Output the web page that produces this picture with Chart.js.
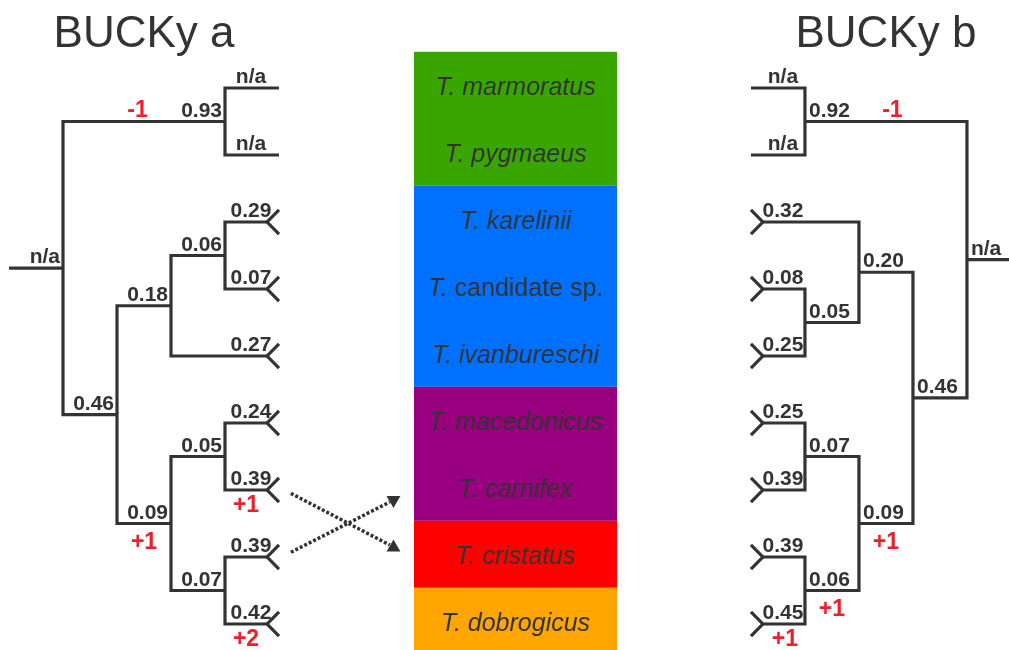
<!DOCTYPE html>
<html>
<head>
<meta charset="utf-8">
<script src="https://cdn.jsdelivr.net/npm/chart.js@4.4.1/dist/chart.umd.min.js"></script>
<style>
  html, body { margin: 0; padding: 0; background: #fff; }
  #wrap { width: 1009px; height: 650px; position: relative; }
</style>
</head>
<body>
<div id="wrap"><canvas id="chart"></canvas></div>
<script>
// taxa top to bottom, same order in both trees
const taxa = ['marmoratus', 'pygmaeus', 'karelinii', 'candidate sp.', 'ivanbureschi',
              'macedonicus', 'carnifex', 'cristatus', 'dobrogicus'];
const taxonGroup = [0, 0, 1, 1, 1, 2, 2, 3, 4];
const titles = ['BUCKy a', 'BUCKy b'];

// BUCKy a: topology, clade values in pre-order (root first)
const topoA = [[0, 1], [[[2, 3], 4], [[5, 6], [7, 8]]]];
const cfA = ['n/a', '0.93', '0.46', '0.18', '0.06', '0.09', '0.05', '0.07'];
const diffA = ['', '-1', '', '', '', '+1', '', ''];
const leafCfA = ['n/a', 'n/a', '0.29', '0.07', '0.27', '0.24', '0.39', '0.39', '0.42'];
const leafDiffA = ['', '', '', '', '', '', '+1', '', '+2'];

// BUCKy b
const topoB = [[0, 1], [[2, [3, 4]], [[5, 6], [7, 8]]]];
const cfB = ['n/a', '0.92', '0.46', '0.20', '0.05', '0.09', '0.07', '0.06'];
const diffB = ['', '-1', '', '', '', '+1', '', '+1'];
const leafCfB = ['n/a', 'n/a', '0.32', '0.08', '0.25', '0.25', '0.39', '0.39', '0.45'];
const leafDiffB = ['', '', '', '', '', '', '', '', '+1'];

// taxa that swap place between the trees (dotted arrows)
const swapped = [6, 7];

// ---- look ----
const INK = '#333333';
const RED = '#e8212b';
const groupColors = ['#39a600', '#0070ff', '#990080', '#ff0000', '#ffa500'];
const FONT = '"Liberation Sans", Arial, sans-serif';
const RIGHT_ROOT = 18.74;          // mirror axis for the right tree
const COLUMN = [7.5, 11.26];       // x range of the taxon column
const FORK_X = 0.22, FORK_Y = 0.18;

// lay out a tree: level 1 = root, leaves at level 5
function layout(topo, side) {
  const nodes = [];
  const walk = (n) => {
    if (typeof n === 'number') return { leaf: n, y: n, h: 0 };
    const node = { y: 0, h: 0 };
    nodes.push(node);
    node.kids = n.map(walk);
    node.y = (node.kids[0].y + node.kids[node.kids.length - 1].y) / 2;
    node.h = 1 + Math.max(...node.kids.map(k => k.h));
    return node;
  };
  walk(topo);
  nodes.forEach(n => { n.lvl = 5 - n.h; });
  nodes.forEach(n => n.kids.forEach(k => { k.parentLvl = n.lvl; }));
  nodes[0].parentLvl = 0;
  const px = v => side > 0 ? v : RIGHT_ROOT - v;
  return { nodes, px, side };
}

const trees = [
  Object.assign(layout(topoA, 1), { cf: cfA, diff: diffA, leafCf: leafCfA, leafDiff: leafDiffA }),
  Object.assign(layout(topoB, -1), { cf: cfB, diff: diffB, leafCf: leafCfB, leafDiff: leafDiffB })
];

const lineStyle = {
  showLine: true, borderColor: INK, borderWidth: 3.2, pointRadius: 0,
  borderJoinStyle: 'miter', borderCapStyle: 'butt', tension: 0
};

const datasets = [];
trees.forEach(t => {
  const end = k => {
    if (k.leaf === undefined) return k.lvl;
    return t.leafCf[k.leaf] === 'n/a' ? 5 : 5 - FORK_X;
  };
  t.nodes.forEach(n => {
    const a = n.kids[0], b = n.kids[n.kids.length - 1];
    datasets.push(Object.assign({ data: [
      { x: t.px(end(a)), y: a.y }, { x: t.px(n.lvl), y: a.y },
      { x: t.px(n.lvl), y: b.y }, { x: t.px(end(b)), y: b.y }
    ] }, lineStyle));
  });
  const root = t.nodes[0];
  datasets.push(Object.assign({ data: [{ x: t.px(0), y: root.y }, { x: t.px(1), y: root.y }] }, lineStyle));
  t.leafCf.forEach((v, i) => {
    if (v === 'n/a') return;
    datasets.push(Object.assign({ data: [
      { x: t.px(5), y: i - FORK_Y }, { x: t.px(5 - FORK_X), y: i }, { x: t.px(5), y: i + FORK_Y }
    ] }, lineStyle));
  });
});

// dotted arrows between the swapped taxa
const [sa, sb] = swapped;
const arrowStyle = Object.assign({}, lineStyle, { borderDash: [3, 2], borderWidth: 3.5 });
datasets.push(Object.assign({ data: [{ x: 5.22, y: sa + 0.05 }, { x: 7.05, y: sb - 0.18 }] }, arrowStyle));
datasets.push(Object.assign({ data: [{ x: 5.22, y: sb - 0.07 }, { x: 7.05, y: sa + 0.18 }] }, arrowStyle));
datasets.push({
  data: [{ x: 7.12, y: sb - 0.14 }, { x: 7.12, y: sa + 0.15 }],
  showLine: false, pointStyle: 'triangle', pointRadius: 8, rotation: [0, 180],
  backgroundColor: INK, borderColor: INK, borderWidth: 0
});

const treeText = {
  id: 'treeText',
  beforeDatasetsDraw(chart) {
    const { ctx, scales: { x, y } } = chart;
    ctx.save();
    const x0 = x.getPixelForValue(COLUMN[0]), x1 = x.getPixelForValue(COLUMN[1]);
    groupColors.forEach((c, g) => {
      const rows = taxonGroup.map((gg, i) => gg === g ? i : -1).filter(i => i >= 0);
      const top = y.getPixelForValue(rows[0] - 0.54);
      const bot = y.getPixelForValue(rows[rows.length - 1] + 0.46);
      ctx.fillStyle = c;
      ctx.fillRect(x0, top, x1 - x0, bot - top);
    });
    // taxon names
    const cx = (x0 + x1) / 2;
    ctx.fillStyle = INK;
    ctx.textBaseline = 'alphabetic';
    ctx.textAlign = 'left';
    taxa.forEach((name, i) => {
      const gen = 'T. ';
      const itFont = 'italic 25px ' + FONT;
      const spFont = (name.endsWith('sp.') ? '' : 'italic ') + '25px ' + FONT;
      ctx.font = itFont; const w1 = ctx.measureText(gen).width;
      ctx.font = spFont; const w2 = ctx.measureText(name).width;
      const sx = cx - (w1 + w2) / 2, by = y.getPixelForValue(i) + 7;
      ctx.font = itFont; ctx.fillText(gen, sx, by);
      ctx.font = spFont; ctx.fillText(name, sx + w1, by);
    });
    ctx.restore();
  },
  afterDatasetsDraw(chart) {
    const { ctx, scales: { x, y } } = chart;
    ctx.save();
    trees.forEach((t, ti) => {
      const left = t.side > 0;
      // title
      ctx.fillStyle = INK;
      ctx.font = '44px ' + FONT;
      ctx.textAlign = 'center';
      ctx.textBaseline = 'alphabetic';
      ctx.fillText(titles[ti], x.getPixelForValue(t.px(2.5)), y.getPixelForValue(-0.612));
      // clade values
      t.nodes.forEach((n, k) => {
        const nx = x.getPixelForValue(t.px(n.lvl)), ny = y.getPixelForValue(n.y);
        ctx.fillStyle = INK;
        ctx.font = 'bold 21px ' + FONT;
        ctx.textAlign = left ? 'right' : 'left';
        ctx.textBaseline = 'alphabetic';
        ctx.fillText(t.cf[k], left ? nx - 3 : nx + 4, ny - 5);
        const d = t.diff[k];
        if (d) {
          const px0 = x.getPixelForValue(t.px(n.parentLvl));
          ctx.fillStyle = RED;
          ctx.font = 'bold 23px ' + FONT;
          ctx.textAlign = 'center';
          if (d[0] === '-') {
            ctx.textBaseline = 'alphabetic';
            ctx.fillText(d, px0 + (nx - px0) * 0.46, ny - 5);
          } else {
            ctx.textBaseline = 'middle';
            ctx.fillText(d, px0 + (nx - px0) * 0.5, ny + 19);
          }
        }
      });
      // leaf values
      t.leafCf.forEach((v, i) => {
        const par = x.getPixelForValue(t.px(4)), ly = y.getPixelForValue(i);
        ctx.fillStyle = INK;
        ctx.font = 'bold 21px ' + FONT;
        ctx.textAlign = 'center';
        ctx.textBaseline = 'alphabetic';
        ctx.fillText(v, left ? par + 26 : par - 22, ly - 5);
        const d = t.leafDiff[i];
        if (d) {
          ctx.fillStyle = RED;
          ctx.font = 'bold 23px ' + FONT;
          ctx.textBaseline = 'middle';
          ctx.fillText(d, left ? par + 21 : par - 20, ly + 16);
        }
      });
    });
    ctx.restore();
  }
};

new Chart(document.getElementById('chart'), {
  type: 'scatter',
  data: { datasets },
  options: {
    responsive: true,
    maintainAspectRatio: false,
    animation: false,
    events: [],
    layout: { padding: 0, autoPadding: false },
    plugins: { legend: { display: false }, tooltip: { enabled: false } },
    scales: {
      x: { type: 'linear', min: -9 / 54, max: 1000 / 54, display: false },
      y: { type: 'linear', min: -88 / 67, max: 562 / 67, reverse: true, display: false }
    }
  },
  plugins: [treeText]
});
</script>
</body>
</html>
